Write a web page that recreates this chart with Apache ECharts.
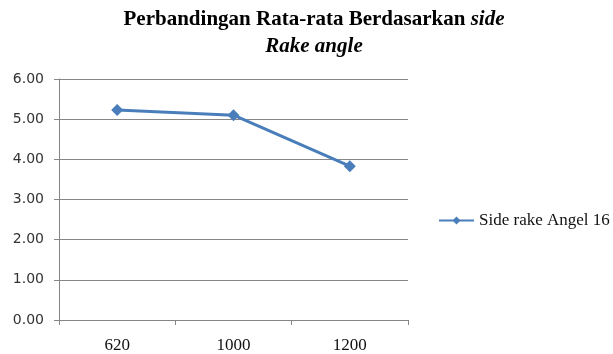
<!DOCTYPE html>
<html>
<head>
<meta charset="utf-8">
<script src="https://cdn.jsdelivr.net/npm/echarts@6/dist/echarts.min.js"></script>
<style>
html, body { margin: 0; padding: 0; background: #fff; }
#main { width: 613px; height: 354px; }
</style>
</head>
<body>
<div id="main"></div>
<script>
// data
var categories = ['620', '1000', '1200'];
var seriesName = 'Side rake Angel 16';
var values = [5.23, 5.10, 3.83];

var myChart = echarts.init(document.getElementById('main'));

var option = {
    backgroundColor: '#fff',
    animation: false,
    title: {
        text: '{b|Perbandingan Rata-rata Berdasarkan }{i|side}\n{i|Rake angle}',
        left: 309,
        top: 1,
        textAlign: 'center',
        textStyle: {
            rich: {
                b: { fontFamily: 'Liberation Serif', fontWeight: 'bold', fontSize: 21, color: '#000', lineHeight: 27 },
                i: { fontFamily: 'Liberation Serif', fontWeight: 'bold', fontStyle: 'italic', fontSize: 21, color: '#000', lineHeight: 27 }
            }
        }
    },
    legend: {
        data: [seriesName],
        left: 433,
        top: 207,
        itemWidth: 35,
        itemHeight: 10,
        textStyle: { fontFamily: 'Liberation Serif', fontSize: 17, color: '#111' }
    },
    grid: {
        left: 59,
        top: 79,
        width: 349,
        height: 241,
        containLabel: false
    },
    xAxis: {
        type: 'category',
        data: categories,
        boundaryGap: true,
        axisLine: { lineStyle: { color: '#868686', width: 1 } },
        axisTick: { show: true, length: 5, lineStyle: { color: '#868686' } },
        axisLabel: { fontFamily: 'Liberation Serif', fontSize: 17, color: '#111', margin: 17 }
    },
    yAxis: {
        type: 'value',
        min: 0,
        max: 6,
        interval: 1,
        axisLine: { show: true, lineStyle: { color: '#868686', width: 1 } },
        axisTick: { show: true, length: 5, lineStyle: { color: '#868686' } },
        axisLabel: {
            fontFamily: 'DejaVu Sans',
            fontSize: 14,
            color: '#333',
            margin: 15,
            formatter: function (v) { return v.toFixed(2); }
        },
        splitLine: { lineStyle: { color: '#868686', width: 1 } }
    },
    series: [
        {
            name: seriesName,
            type: 'line',
            data: values,
            symbol: 'diamond',
            symbolSize: 12,
            lineStyle: { color: '#4a7ebb', width: 3 },
            itemStyle: { color: '#4a7ebb' }
        }
    ]
};

myChart.setOption(option);
</script>
</body>
</html>
